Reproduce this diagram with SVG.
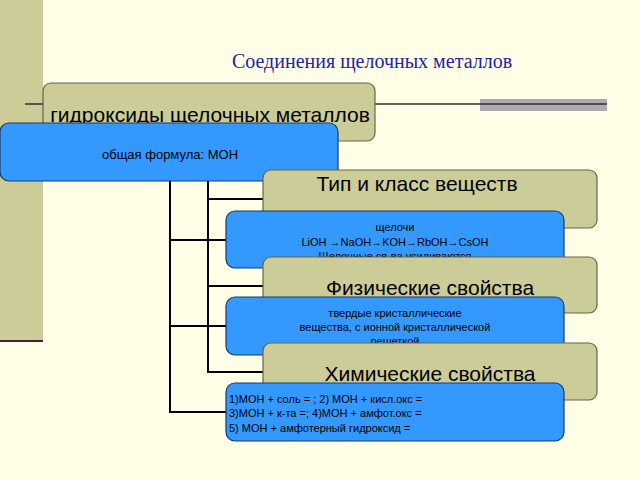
<svg xmlns="http://www.w3.org/2000/svg" width="640" height="480" viewBox="0 0 640 480">
<style>
.tan{fill:#CCCC99;stroke:#666644;stroke-width:1.2}
.blue{fill:#3399FF;stroke:#1a3a66;stroke-width:1.2}
.big{font-family:"Liberation Sans",Arial,sans-serif;font-size:21px;fill:#000}
.sm{font-family:"Liberation Sans",Arial,sans-serif;font-size:11px;fill:#000}
.conn line{stroke:#000;stroke-width:2}
</style>
<rect width="640" height="480" fill="#FFFFE8"/>
<rect x="0" y="0" width="43" height="340" fill="#CCCC99"/>
<line x1="0" y1="341" x2="43" y2="341" stroke="#442233" stroke-width="2"/>
<text x="372" y="68" text-anchor="middle" font-family="Liberation Serif,serif" font-size="20" fill="#2222AA">Соединения щелочных металлов</text>
<rect x="480" y="99" width="127" height="12" fill="#AAAAB0"/>
<line x1="25" y1="104" x2="607" y2="104" stroke="#442233" stroke-width="1.5"/>
<g class="conn">
<line x1="170" y1="141" x2="170" y2="412"/>
<line x1="170" y1="240" x2="226" y2="240"/>
<line x1="170" y1="326" x2="226" y2="326"/>
<line x1="169" y1="412" x2="226" y2="412"/>
<line x1="208" y1="141" x2="208" y2="373"/>
<line x1="208" y1="199" x2="263" y2="199"/>
<line x1="208" y1="286" x2="263" y2="286"/>
<line x1="207" y1="372" x2="263" y2="372"/>
</g>
<g id="root"><rect class="tan" x="43" y="83" width="332" height="58" rx="8"/><text class="big" x="210" y="122" text-anchor="middle" font-size="20">гидроксиды щелочных металлов</text></g>
<g id="formula"><rect class="blue" x="0" y="123" width="338" height="58" rx="9"/><text x="170" y="159" text-anchor="middle" font-family="Liberation Sans,Arial,sans-serif" font-size="13" fill="#000">общая формула: МОН</text></g>
<g id="type"><rect class="tan" x="263" y="170" width="334" height="58" rx="8"/><text class="big" x="417" y="191" text-anchor="middle">Тип и класс веществ</text></g>
<g id="typeinfo"><rect class="blue" x="226" y="211" width="338" height="57" rx="9"/>
<text class="sm" x="395" y="231" text-anchor="middle">щелочи</text>
<text class="sm" x="395" y="246" text-anchor="middle">LiOH  →NaOH→KOH→RbOH→CsOH</text>
<text class="sm" x="395" y="260" text-anchor="middle">Щелочные св-ва усиливаются</text></g>
<g id="phys"><rect class="tan" x="263" y="257" width="334" height="56" rx="8"/><text class="big" x="430" y="295" text-anchor="middle">Физические свойства</text></g>
<g id="physinfo"><rect class="blue" x="226" y="297" width="338" height="58" rx="9"/>
<text class="sm" x="395" y="317" text-anchor="middle">твердые кристаллические</text>
<text class="sm" x="395" y="331" text-anchor="middle">вещества, с ионной кристаллической</text>
<text class="sm" x="395" y="345" text-anchor="middle">решеткой</text></g>
<g id="chem"><rect class="tan" x="263" y="343" width="334" height="57" rx="8"/><text class="big" x="430" y="381" text-anchor="middle">Химические свойства</text></g>
<g id="cheminfo"><rect class="blue" x="226" y="383" width="338" height="58" rx="9"/>
<text class="sm" x="229" y="403">1)МОН + соль =  ; 2) МОН + кисл.окс =</text>
<text class="sm" x="229" y="417">3)МОН + к-та =;  4)МОН + амфот.окс =</text>
<text class="sm" x="229" y="432">5) МОН + амфотерный гидроксид =</text></g>
</svg>
